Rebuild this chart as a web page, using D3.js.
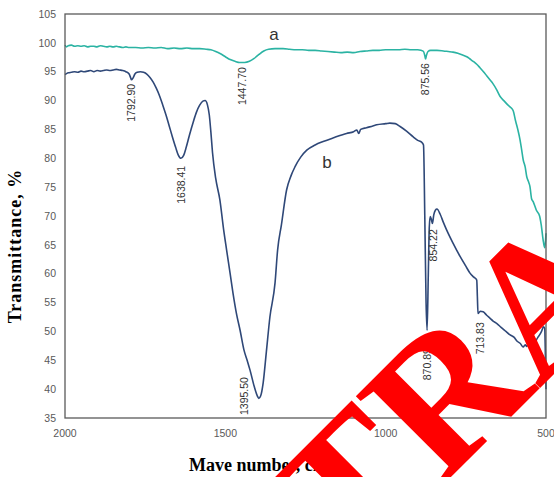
<!DOCTYPE html>
<html><head><meta charset="utf-8">
<script src="https://cdn.jsdelivr.net/npm/d3@7"></script>
<style>body{margin:0;background:#fff;}svg{display:block;}</style>
</head><body>
<script>
// ---- data ----
const wnB = [2000,1990,1980,1970,1960,1950,1940,1930,1920,1910,1900,1890,1880,1870,1860,1850,1840,1830,1820,1810,1800,1795,1792.9,1788,1782,1775,1765,1755,1745,1735,1725,1715,1705,1695,1685,1675,1665,1655,1647,1638.4,1630,1622,1612,1600,1590,1580,1570,1563,1556,1550,1545,1540,1530,1517,1505,1496,1485,1476,1465,1454,1442,1432,1423,1410,1400,1395.5,1390,1382,1372,1361,1345,1337,1325,1309,1295,1283,1265,1246,1220,1195,1160,1122,1100,1090,1084,1078,1060,1040,1028,1000,987,970,955,935,914,900,888,882,878,874,870.89,867,864,861,857,854.2,850,845,840,830,820,810,790,768,750,737,725,716,714,712,705,696,685,675,665,654,640,625,612,600,590,580,571,565,560,555,548,543,540,535,530,525,520,514,508,504,502,500];
const tB = [94.5,94.8,94.9,95.0,94.9,95.1,95.0,95.1,95.2,95.0,95.2,95.1,95.2,95.3,95.2,95.3,95.4,95.3,95.2,95.0,94.6,93.9,93.6,93.9,94.6,94.9,95.0,94.9,94.6,94.0,93.2,92.1,90.8,89.2,87.5,85.6,83.7,81.9,80.6,80.0,80.5,81.9,84.0,86.3,88.0,89.2,89.9,90.0,89.3,87.5,84.5,81.0,76.5,72.8,67.5,64.1,60.0,56.6,53.0,50.2,46.8,45.0,43.3,40.5,38.8,38.4,38.8,41.1,46.5,52.5,58.4,64.1,68.5,74.5,77.0,78.5,80.2,81.4,82.3,82.9,83.6,84.3,84.6,84.9,84.3,85.0,85.3,85.6,85.8,86.0,86.1,86.0,85.5,84.7,83.7,83.1,82.8,82.3,70.0,55.0,50.2,60.0,68.0,69.9,69.3,68.7,70.2,71.0,71.2,70.3,68.9,67.6,65.3,63.0,61.3,60.1,59.4,58.9,56.0,53.1,53.5,53.4,52.8,52.3,51.8,51.4,50.7,50.0,49.4,49.0,48.3,47.9,47.3,47.7,47.4,47.9,47.5,47.0,46.8,47.4,48.5,49.0,49.4,50.0,50.8,50.5,46.0,40.0];

const wnA = [2000,1995,1990,1980,1970,1960,1950,1940,1930,1920,1910,1900,1890,1880,1870,1860,1850,1840,1830,1820,1810,1800,1780,1760,1740,1720,1700,1680,1660,1640,1620,1600,1580,1560,1545,1530,1515,1500,1485,1470,1455,1440,1425,1410,1395,1380,1365,1345,1320,1300,1280,1260,1240,1220,1200,1180,1160,1140,1120,1100,1080,1060,1040,1020,1000,980,960,940,920,900,890,882,878,875.56,873,868,860,840,820,805,790,775,760,747,737,727,716,706,695,685,675,665,655,643,630,620,610,602,595,588,581,576,571,565,560,555,550,545,540,530,520,515,508,504,500];
const tA = [99.6,99.3,99.5,99.6,99.4,99.5,99.4,99.5,99.3,99.4,99.4,99.3,99.5,99.4,99.3,99.4,99.3,99.4,99.3,99.2,99.3,99.2,99.2,99.1,99.2,99.1,99.2,99.0,99.1,99.0,99.1,99.0,99.0,98.9,98.8,98.5,98.1,97.6,97.1,96.8,96.6,96.6,96.8,97.3,98.0,98.6,98.9,99.0,99.0,98.9,98.8,98.8,98.7,98.7,98.6,98.5,98.4,98.3,98.4,98.3,98.5,98.6,98.7,98.7,98.8,98.8,98.8,98.9,98.8,98.8,98.7,98.5,97.8,97.2,97.8,98.5,98.7,98.7,98.6,98.5,98.4,98.2,97.9,97.6,97.2,96.8,96.3,95.7,95.0,94.3,93.6,92.9,92.0,90.7,89.9,89.3,88.8,88.2,86.5,85.0,83.2,81.5,79.7,78.5,76.8,76.0,75.1,73.0,72.5,71.0,70.0,68.5,65.5,64.5,67.0];

// peak annotations: label, wavenumber at which label is centred, T value at label top
const peakLabels = ["1792.90","1638.41","1447.70","875.56","1395.50","870.89","854.22","713.83"];
const peakLabelWn = [1792.9,1638.41,1447.7,875.56,1442,870.0,852,706];
const peakLabelTopT = [92.9,78.7,95.8,96.5,42.1,47.1,67.7,51.6];

const seriesNames = ["a","b"];
const seriesNameWn = [1348,1183];
const seriesNameT = [101.5,79.3];

const xTicks = [2000,1500,1000,500];
const yTicks = [35,40,45,50,55,60,65,70,75,80,85,90,95,100,105];

const xTitle = "Mave number, cm";
const yTitle = "Transmittance, %";
const watermark = "TRA";

// ---- chart ----
const W = 554, H = 477;
const svg = d3.select("body").append("svg").attr("width", W).attr("height", H);
const x = d3.scaleLinear().domain([2000,500]).range([65,546]);
const y = d3.scaleLinear().domain([35,105]).range([418,14]);

// y tick labels
svg.append("g").selectAll("text").data(yTicks).join("text")
  .attr("x", 56).attr("y", d => y(d)).attr("dy","0.35em")
  .attr("text-anchor","end").attr("font-family","Liberation Sans, Arial, sans-serif")
  .attr("font-size", 10.5).attr("fill","#595959").text(d => d);
// x tick labels
svg.append("g").selectAll("text").data(xTicks).join("text")
  .attr("x", d => x(d)).attr("y", 437)
  .attr("text-anchor","middle").attr("font-family","Liberation Sans, Arial, sans-serif")
  .attr("font-size", 10.5).attr("fill","#595959").text(d => d);

const line = d3.line().x(d => x(d[0])).y(d => y(d[1])).curve(d3.curveMonotoneX);
const dataA = wnA.map((w,i) => [w, tA[i]]);
const dataB = wnB.map((w,i) => [w, tB[i]]);

svg.append("path").datum(dataA).attr("d", line)
  .attr("fill","none").attr("stroke","#2BB3A3").attr("stroke-width",1.6);
svg.append("path").datum(dataB).attr("d", line)
  .attr("fill","none").attr("stroke","#2F4878").attr("stroke-width",1.6);

// plot box
svg.append("rect").attr("x", x(2000)).attr("y", y(105))
  .attr("width", x(500)-x(2000)).attr("height", y(35)-y(105))
  .attr("fill","none").attr("stroke","#5a5a5a").attr("stroke-width",1.3);

// peak labels
svg.append("g").selectAll("text").data(peakLabels).join("text")
  .attr("transform", (d,i) => `translate(${x(peakLabelWn[i])},${y(peakLabelTopT[i])}) rotate(-90)`)
  .attr("dy","0.35em").attr("text-anchor","end")
  .attr("font-family","Liberation Sans, Arial, sans-serif").attr("font-size",10.5)
  .attr("fill","#333").text(d => d);

// series labels
svg.append("g").selectAll("text").data(seriesNames).join("text")
  .attr("x", (d,i) => x(seriesNameWn[i])).attr("y", (d,i) => y(seriesNameT[i]))
  .attr("dy","0.35em").attr("text-anchor","middle")
  .attr("font-family","Liberation Sans, Arial, sans-serif").attr("font-size",17)
  .attr("fill","#333").text(d => d);

// axis titles
svg.append("text").attr("transform","translate(21,246) rotate(-90)")
  .attr("text-anchor","middle").attr("font-family","Liberation Serif, Times New Roman, serif")
  .attr("font-weight","bold").attr("font-size",18).attr("letter-spacing",1)
  .attr("fill","#000").text(yTitle);
const xt = svg.append("text").attr("x",189).attr("y",471)
  .attr("font-family","Liberation Serif, Times New Roman, serif")
  .attr("font-weight","bold").attr("font-size",18).attr("fill","#000");
xt.append("tspan").text(xTitle);
xt.append("tspan").attr("dy",-7).attr("font-size",12).text("-1");

// red watermark overlay
svg.append("text").attr("transform","translate(352,576) rotate(-45)")
  .attr("font-family","Liberation Serif, Times New Roman, serif")
  .attr("font-weight","bold").attr("font-size",190).attr("fill","#FF0000")
  .text(watermark);
</script>
</body></html>
